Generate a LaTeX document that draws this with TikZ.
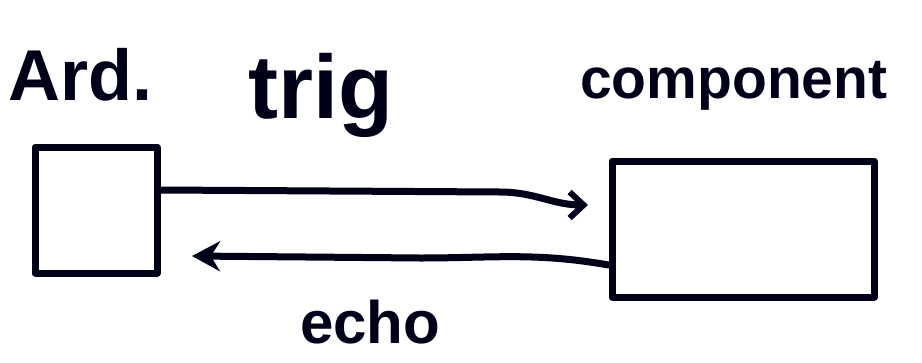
\documentclass[tikz,border=0pt]{standalone}
\usepackage{fontspec}
\setmainfont{Liberation Sans}
\usetikzlibrary{arrows.meta}
\tikzset{
  ink/.style={line width=7pt, draw=black!90!blue, line cap=round, line join=round},
  boxnode/.style={ink, draw, minimum width=#1, inner sep=0pt},
  hand/.style={font=\fontsize{64}{64}\selectfont\bfseries, text=black!90!blue, inner sep=0pt},
  conn/.style={ink, -{Straight Barb[length=14pt,width=26pt,line width=6pt]}},
}
\begin{document}
\begin{tikzpicture}[x=1pt,y=-1pt]
\useasboundingbox (0,0) rectangle (922,362);
\node[boxnode=122pt, minimum height=126pt] (ard) at (96,210) {};
\node[boxnode=262pt, minimum height=136pt] (comp) at (743,229) {};
\node[hand, anchor=base west, font=\fontsize{72}{72}\selectfont\bfseries] (lard) at (8,100) {Ard.};
\node[hand, anchor=base west, font=\fontsize{57}{57}\selectfont\bfseries] (lcomp) at (580,98) {component};
\node[hand, anchor=base west, font=\fontsize{90}{90}\selectfont\bfseries] (ltrig) at (248,118) {trig};
\node[hand, anchor=base west, font=\fontsize{60}{60}\selectfont\bfseries] (lecho) at (300,343) {echo};
\coordinate (t1) at (ard.east |- 0,190);
\coordinate (t2) at (588,205);
\draw[conn] (t1) -- (500,192) to[out=0,in=180] (t2);
\coordinate (e1) at (comp.west |- 0,265);
\coordinate (e2) at (192,256);
\draw[ink, -{Stealth[length=28pt,width=30pt]}] (e1) to[out=170,in=0] (420,258) -- (e2);
\end{tikzpicture}
\end{document}
